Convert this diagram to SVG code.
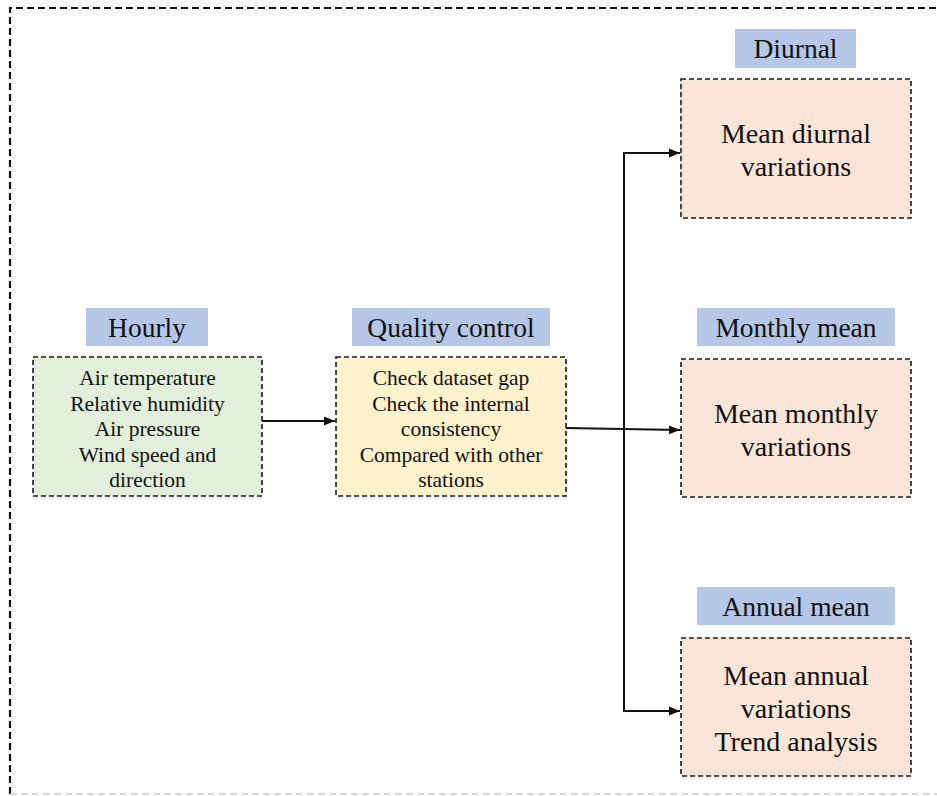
<svg xmlns="http://www.w3.org/2000/svg" width="937" height="796" viewBox="0 0 937 796">
<style>
.lbl{fill:#b4c7e7}
.box{stroke:#1a1a1a;stroke-width:1.6;stroke-dasharray:5,3}
.t{font-family:"Liberation Serif","Times New Roman",serif;fill:#111;text-anchor:middle}
.s{font-size:21.5px}
.h{font-size:27.5px}
.b{font-size:28px}
.c{stroke:#111;stroke-width:2;fill:none}
</style>
<defs>
<marker id="ah" viewBox="0 0 10 10" refX="10" refY="5" markerWidth="11" markerHeight="11" markerUnits="userSpaceOnUse" orient="auto">
<path d="M0,1 L10,5 L0,9 Z" fill="#111"/>
</marker>
</defs>
<rect width="937" height="796" fill="#fff"/>
<g id="frame">
<path d="M10,794 L10,8 L940,8" fill="none" stroke="#111" stroke-width="2.2" stroke-dasharray="7,4"/>
<path d="M10,794 L937,794" fill="none" stroke="#ccc" stroke-width="1.5" stroke-dasharray="7,4"/>
</g>
<g id="hourly">
<rect class="lbl" x="86" y="308" width="122" height="38"/>
<text class="t h" x="147" y="337">Hourly</text>
<rect class="box" x="33" y="357" width="229" height="139" fill="#e2efda"/>
<text class="t s" x="147.5" y="385">Air temperature</text>
<text class="t s" x="147.5" y="411">Relative humidity</text>
<text class="t s" x="147.5" y="436">Air pressure</text>
<text class="t s" x="147.5" y="462">Wind speed and</text>
<text class="t s" x="147.5" y="487">direction</text>
</g>
<g id="quality">
<rect class="lbl" x="352" y="308" width="198" height="38"/>
<text class="t h" x="451" y="337">Quality control</text>
<rect class="box" x="336" y="357" width="230" height="139" fill="#fff2cc"/>
<text class="t s" x="451" y="385">Check dataset gap</text>
<text class="t s" x="451" y="411">Check the internal</text>
<text class="t s" x="451" y="436">consistency</text>
<text class="t s" x="451" y="462">Compared with other</text>
<text class="t s" x="451" y="487">stations</text>
</g>
<g id="diurnal">
<rect class="lbl" x="735" y="29" width="121" height="39"/>
<text class="t h" x="795.5" y="58">Diurnal</text>
<rect class="box" x="681" y="79" width="230" height="139" fill="#fbe5d6"/>
<text class="t b" x="796" y="143">Mean diurnal</text>
<text class="t b" x="796" y="176">variations</text>
</g>
<g id="monthly">
<rect class="lbl" x="697" y="308" width="198" height="38"/>
<text class="t h" x="796" y="337">Monthly mean</text>
<rect class="box" x="681" y="359" width="230" height="138" fill="#fbe5d6"/>
<text class="t b" x="796" y="423">Mean monthly</text>
<text class="t b" x="796" y="456">variations</text>
</g>
<g id="annual">
<rect class="lbl" x="697" y="587" width="198" height="38"/>
<text class="t h" x="796" y="616">Annual mean</text>
<rect class="box" x="681" y="638" width="230" height="138" fill="#fbe5d6"/>
<text class="t b" x="796" y="685">Mean annual</text>
<text class="t b" x="796" y="718">variations</text>
<text class="t b" x="796" y="751">Trend analysis</text>
</g>
<g id="connectors">
<path class="c" d="M262,421 L335,421" marker-end="url(#ah)"/>
<path class="c" d="M566,428 L680,430" marker-end="url(#ah)"/>
<path class="c" d="M624,153 L624,711"/>
<path class="c" d="M623,153 L680,153" marker-end="url(#ah)"/>
<path class="c" d="M623,711 L680,711" marker-end="url(#ah)"/>
</g>
</svg>
